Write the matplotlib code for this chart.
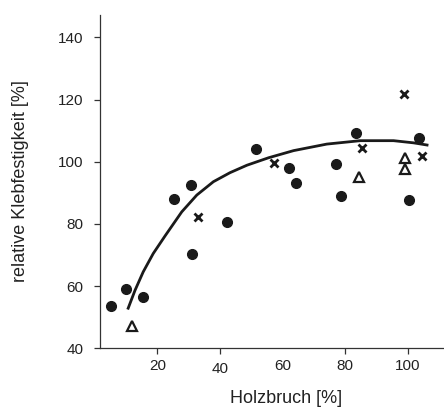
import matplotlib
matplotlib.use("Agg")
import matplotlib.pyplot as plt
import matplotlib.transforms as mtransforms

plt.rcParams['font.family'] = ['Liberation Sans', 'DejaVu Sans']

# Daten
kreis_x = [5.2, 9.9, 15.4, 25.3, 30.8, 31.0, 42.3, 51.4, 62.1, 64.3, 77.0, 78.6, 83.3, 100.4, 103.4]
kreis_y = [53.7, 59.0, 56.4, 88.0, 92.7, 70.2, 80.5, 104.1, 97.9, 93.2, 99.4, 89.1, 109.2, 87.7, 107.7]

kreuz_x = [33.1, 57.3, 85.3, 98.6, 104.6]
kreuz_y = [82.3, 99.5, 104.5, 121.8, 101.8]

dreieck_x = [12.0, 84.5, 99.1, 99.1]
dreieck_y = [47.2, 95.0, 101.3, 97.7]

kurve_x = [10.7, 12.9, 15.5, 18.7, 22.5, 27.8, 32.6, 37.9, 43.2, 48.6, 55.5, 63.5, 74.1, 84.8, 95.4, 101.8, 106.1]
kurve_y = [52.9, 58.7, 64.6, 70.5, 76.2, 83.9, 89.3, 93.6, 96.5, 98.9, 101.3, 103.6, 105.7, 106.8, 106.8, 106.1, 105.4]

x_ticks = [20, 40, 60, 80, 100]
y_ticks = [40, 60, 80, 100, 120, 140]

fig = plt.figure(figsize=(4.44, 4.08), dpi=100)
ax = fig.add_axes([0.2252, 0.1463, 0.7726, 0.8167])

farbe = '#1a1a1a'
ax.plot(kurve_x, kurve_y, color=farbe, lw=2.0, solid_joinstyle='round', zorder=2)
ax.plot(kreis_x, kreis_y, 'o', color=farbe, ms=7, mec=farbe, zorder=3)
ax.plot(kreuz_x, kreuz_y, 'x', color=farbe, ms=5.5, mew=2.0, zorder=3)
ax.plot(dreieck_x, dreieck_y, '^', mfc='white', mec=farbe, ms=7, mew=1.6, zorder=3)

ax.set_xlim(1.7, 111.2)
ax.set_ylim(40, 147.2)
ax.set_xticks(x_ticks)
ax.set_yticks(y_ticks)

for s in ['top', 'right']:
    ax.spines[s].set_visible(False)
for s in ['left', 'bottom']:
    ax.spines[s].set_color('#333333')
    ax.spines[s].set_linewidth(0.9)

ax.tick_params(axis='both', direction='out', length=4, width=0.9, color='#333333',
               labelsize=11, labelcolor='#222222')
ax.tick_params(axis='y', pad=8)
ax.tick_params(axis='x', pad=4)

# kein Strich bei 60, Beschriftung 40 etwas tiefer (wie im Original)
ax.xaxis.get_major_ticks()[2].tick1line.set_visible(False)
lbl = ax.get_xticklabels()[1]
lbl.set_transform(lbl.get_transform() + mtransforms.ScaledTranslation(0, -3 / 100, fig.dpi_scale_trans))

ax.set_xlabel('Holzbruch [%]', fontsize=13, color='#222222')
ax.set_ylabel('relative Klebfestigkeit [%]', fontsize=13, color='#222222')
ax.xaxis.set_label_coords(0.541, -0.124)
ax.yaxis.set_label_coords(-0.207, 0.503)

fig.savefig('out.png', dpi=100)
